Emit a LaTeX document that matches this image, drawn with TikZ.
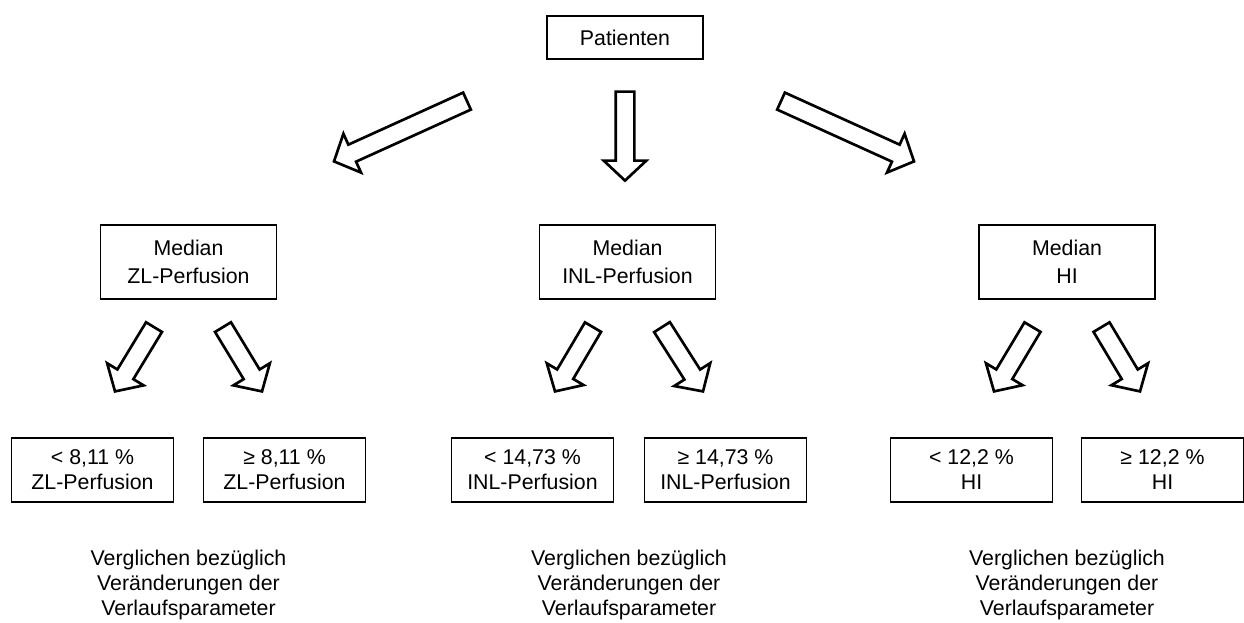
\documentclass[tikz,border=0pt]{standalone}
\usepackage{fontspec}
\setmainfont{Liberation Sans}
\usetikzlibrary{calc, positioning}

\tikzset{
  box/.style={draw, line width=0.9pt, align=center, inner sep=0pt,
    font=\fontsize{16}{18.75}\selectfont},
  topbox/.style={box, minimum width=117pt, minimum height=32.25pt},
  medbox/.style={box, minimum width=132pt, minimum height=55.5pt,
    font=\fontsize{16}{21}\selectfont},
  splitbox/.style={box, minimum width=121.5pt, minimum height=48pt},
  note/.style={align=center, font=\fontsize{16}{18.75}\selectfont},
  blockarr/.style={draw, line width=2pt, line join=miter, fill=white},
}

% hollow block arrow from #1 (tail) to #2 (tip)
\newcommand{\blockarrow}[2]{%
  \coordinate (neck) at ($(#2)!15pt!(#1)$);
  \draw[blockarr] ($(#1)!7pt!90:(#2)$) -- ($(neck)!7pt!90:(#2)$)
    -- ($(neck)!16pt!90:(#2)$) -- (#2) -- ($(neck)!16pt!-90:(#2)$)
    -- ($(neck)!7pt!-90:(#2)$) -- ($(#1)!7pt!-90:(#2)$) -- cycle;
}

\begin{document}
\begin{tikzpicture}[x=0.75pt, y=-0.75pt]
    \useasboundingbox (0,0) rectangle (1244,622);

    % Top
    \node[topbox] (pat) at (625,37.5) {Patienten};

    % Medians
    \node[medbox] (medZL) at (188.5,262) {Median\\ZL-Perfusion};
    \node[medbox] (medINL) at (627.5,262) {Median\\INL-Perfusion};
    \node[medbox] (medHI) at (1067,262) {Median\\HI};

    % Big arrows
    \coordinate (tZL) at ($(pat.south)+(-158,41.5)$);
    \coordinate (hZL) at ($(medZL.north)+(145.5,-63)$);
    \coordinate (tINL) at ($(pat.south)+(0,32)$);
    \coordinate (hINL) at ($(pat.south)+(0,121)$);
    \coordinate (tHI) at ($(pat.south)+(156,41.5)$);
    \coordinate (hHI) at ($(medHI.north)+(-153,-63)$);
    \blockarrow{tZL}{hZL}
    \blockarrow{tINL}{hINL}
    \blockarrow{tHI}{hHI}

    % Split boxes
    \node[splitbox] (loZL) at (92.5,470) {< 8,11 \%\\ZL-Perfusion};
    \node[splitbox] (hiZL) at (284.5,470) {≥ 8,11 \%\\ZL-Perfusion};
    \node[splitbox] (loINL) at (532.5,470) {< 14,73 \%\\INL-Perfusion};
    \node[splitbox] (hiINL) at (725.5,470) {≥ 14,73 \%\\INL-Perfusion};
    \node[splitbox] (loHI) at (971.5,470) {< 12,2 \%\\HI};
    \node[splitbox] (hiHI) at (1162.5,470) {≥ 12,2 \%\\HI};

    % Small arrows and notes
    \foreach \n in {ZL, INL, HI} {
        \coordinate (tl\n) at ($(med\n.south)+(-34.5,27.5)$);
        \coordinate (hl\n) at ($(lo\n.north)+(22.5,-46)$);
        \coordinate (tr\n) at ($(med\n.south)+(34.5,27.5)$);
        \coordinate (hr\n) at ($(hi\n.north)+(-22.5,-46)$);
        \blockarrow{tl\n}{hl\n}
        \blockarrow{tr\n}{hr\n}
        \node[note] (note\n) at ($(lo\n)!0.5!(hi\n)+(0,115)$)
            {Verglichen bezüglich\\Veränderungen der\\Verlaufsparameter};
    }
\end{tikzpicture}
\end{document}
